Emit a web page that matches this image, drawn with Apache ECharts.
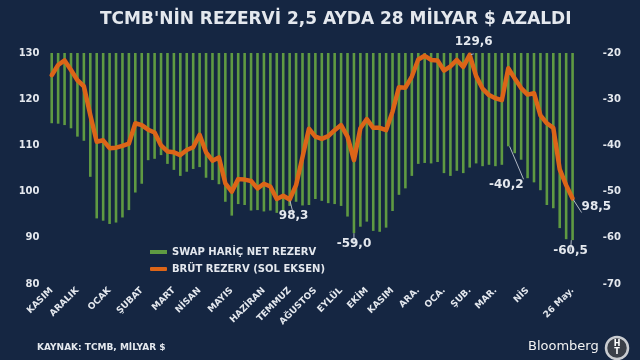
<!DOCTYPE html>
<html>
<head>
<meta charset="utf-8">
<script src="https://cdn.jsdelivr.net/npm/echarts@6/dist/echarts.min.js"></script>
<style>
html,body{margin:0;padding:0;background:#152642;}
#chart{width:640px;height:360px;}
</style>
</head>
<body>
<div id="chart"></div>
<script>
// ---- DATA ----
var titleText = "TCMB'NİN REZERVİ 2,5 AYDA 28 MİLYAR $ AZALDI";
var sourceText = "KAYNAK: TCMB, MİLYAR $";
var seriesNames = ["SWAP HARİÇ NET REZERV", "BRÜT REZERV (SOL EKSEN)"];

// Weekly swap-excluded net reserves (right axis, bn $)
var netReserve = [
  -35.2, -35.3, -35.6, -36.3, -38.1, -39.0, -46.8, -55.8, -56.3, -57.0,
  -56.7, -55.6, -54.0, -50.2, -48.3, -43.2, -42.9, -42.1, -44.0, -45.3,
  -46.6, -45.7, -45.1, -44.7, -47.0, -47.5, -48.4, -52.2, -55.2, -52.7,
  -52.9, -54.1, -54.0, -54.3, -54.1, -54.6, -54.1, -53.1, -52.2, -53.0,
  -52.9, -51.6, -52.0, -52.5, -52.7, -53.1, -55.4, -59.0, -57.6, -56.5,
  -58.5, -58.7, -57.8, -54.2, -50.7, -49.3, -46.6, -44.0, -43.8, -43.9,
  -43.6, -46.0, -46.6, -45.5, -46.0, -44.8, -43.9, -44.5, -44.2, -44.5,
  -44.2, -40.2, -41.7, -43.1, -47.1, -48.0, -49.7, -52.9, -53.6, -57.9,
  -60.3, -60.5
];

// Weekly gross reserves (left axis, bn $)
var grossReserve = [
  125.2, 127.4, 128.4, 126.3, 124.1, 122.8, 116.6, 110.8, 111.1, 109.4,
  109.5, 109.9, 110.4, 114.8, 114.4, 113.4, 112.8, 110.0, 108.7, 108.5,
  107.9, 109.0, 109.6, 112.3, 108.5, 106.7, 107.4, 101.8, 100.0, 102.7,
  102.6, 102.3, 100.7, 101.7, 101.1, 98.4, 99.1, 98.3, 101.4, 107.5,
  113.6, 111.9, 111.4, 112.0, 113.3, 114.4, 111.9, 106.8, 113.7, 115.7,
  113.8, 113.8, 113.3, 117.3, 122.6, 122.5, 124.9, 128.6, 129.4, 128.5,
  128.4, 126.2, 127.1, 128.5, 127.0, 129.6, 125.0, 122.3, 120.9, 120.2,
  119.8, 126.7, 124.5, 122.4, 121.0, 121.3, 116.5, 114.8, 113.8, 104.8,
  101.4, 98.5
];

// Month tick labels and the week index each sits on
var monthLabels = ["KASIM","ARALIK","OCAK","ŞUBAT","MART","NİSAN","MAYIS","HAZİRAN","TEMMUZ","AĞUSTOS","EYLÜL","EKİM","KASIM","ARA.","OCA.","ŞUB.","MAR.","NİS","26 May."];
var monthLabelWeek = [0,4,9,14,19,23,28,33,37,41,45,49,53,57,61,65,69,74,81];

// Annotated points (week indices)
var grossAnnotated = [37, 65, 81];
var netAnnotated = [47, 71, 81];

var leftTicks = [80, 130, 10];
var rightTicks = [-70, -20, 10];

// ---- BUILD ----
var categories = netReserve.map(function(_, i){
  var k = monthLabelWeek.indexOf(i);
  return k >= 0 ? monthLabels[k] : '';
});
// ensure unique category names
var catData = categories.map(function(c, i){ return {value: 'w' + i, label: c}; });
var catLabels = categories;

function fmt(v){ return v.toFixed(1).replace('.', ','); }

var txt = '#e4e8ee';
var font = 'DejaVu Sans';
var labelBase = {show: true, color: txt, fontFamily: font, fontWeight: 'bold', fontSize: 12,
  formatter: function(p){ return fmt(p.value); }};

var grossLabelCfg = {
  37: {position: 'bottom', distance: 9, offset: [4, 0]},
  65: {position: 'top', distance: 6, offset: [4, 0]},
  81: {position: 'right', distance: 8, offset: [0, 8]}
};
var netLabelCfg = {
  47: {position: 'bottom', distance: 5, offset: [0, 0]},
  71: {position: 'bottom', distance: 33, offset: [-2, 0]},
  81: {position: 'bottom', distance: 5, offset: [-2, 0]}
};

var grossData = grossReserve.map(function(v, i){
  if (grossAnnotated.indexOf(i) >= 0) {
    return {value: v, label: Object.assign({}, labelBase, grossLabelCfg[i])};
  }
  return v;
});
var netData = netReserve.map(function(v, i){
  if (netAnnotated.indexOf(i) >= 0) {
    return {value: v, label: Object.assign({}, labelBase, netLabelCfg[i])};
  }
  return v;
});

var chart = echarts.init(document.getElementById('chart'), null, {renderer: 'canvas'});
var option = {
  backgroundColor: '#152642',
  animation: false,
  title: {
    text: titleText, left: 95, top: 6,
    textStyle: {color: txt, fontFamily: font, fontWeight: 'bold', fontSize: 17}
  },
  legend: {
    orient: 'vertical', left: 145, top: 242, itemGap: 7,
    itemWidth: 17, itemHeight: 4,
    data: [{name: seriesNames[0], icon: 'rect'}, {name: seriesNames[1], icon: 'roundRect'}],
    textStyle: {color: txt, fontFamily: font, fontWeight: 'bold', fontSize: 10}
  },
  grid: {left: 48.5, right: 64.2, top: 53, bottom: 76},
  xAxis: {
    type: 'category', data: catData.map(function(d){return d.value;}), boundaryGap: true,
    axisLine: {show: false}, axisTick: {show: false},
    axisLabel: {
      interval: 0, rotate: 45, margin: 5, color: txt, fontFamily: font, fontWeight: 'bold', fontSize: 9,
      formatter: function(v, i){ return catLabels[i]; }
    }
  },
  yAxis: [
    {type: 'value', position: 'left', min: leftTicks[0], max: leftTicks[1], interval: leftTicks[2],
     splitLine: {show: false}, axisLine: {show: false}, axisTick: {show: false},
     axisLabel: {margin: 9, color: txt, fontFamily: font, fontWeight: 'bold', fontSize: 10}},
    {type: 'value', position: 'right', min: rightTicks[0], max: rightTicks[1], interval: rightTicks[2],
     splitLine: {show: false}, axisLine: {show: false}, axisTick: {show: false},
     axisLabel: {margin: 27, color: txt, fontFamily: font, fontWeight: 'bold', fontSize: 10}}
  ],
  series: [
    {
      name: seriesNames[0], type: 'bar', yAxisIndex: 1, data: netData,
      barWidth: 2.6, clip: true,
      itemStyle: {color: '#5f9a42'},
      labelLine: {show: true, lineStyle: {color: '#aeb6c2', width: 1}}
    },
    {
      name: seriesNames[1], type: 'line', yAxisIndex: 0, data: grossData,
      showSymbol: true, showAllSymbol: true, symbol: 'circle', symbolSize: 2,
      itemStyle: {color: '#dc6518'},
      lineStyle: {color: '#dc6518', width: 4.5, join: 'round', cap: 'round'},
      labelLine: {show: true, lineStyle: {color: '#aeb6c2', width: 1}},
      z: 3
    }
  ],
  graphic: [
    {type: 'text', left: 37, top: 343,
     style: {text: sourceText, fill: txt, font: 'bold 9px "DejaVu Sans"'}},
    {type: 'text', left: 528, top: 340,
     style: {text: 'Bloomberg', fill: '#f2f2f2', font: '13px "DejaVu Sans"'}},
    {type: 'circle', shape: {cx: 617, cy: 348, r: 11},
     style: {fill: '#3a3f48', stroke: '#c9ccd1', lineWidth: 2.5}},
    {type: 'text', x: 617, y: 348,
     style: {text: 'H\nT', fill: '#ffffff', font: 'bold 8px "DejaVu Sans"', align: 'center', verticalAlign: 'middle', lineHeight: 8}}
  ]
};
chart.setOption(option);
</script>
</body>
</html>
